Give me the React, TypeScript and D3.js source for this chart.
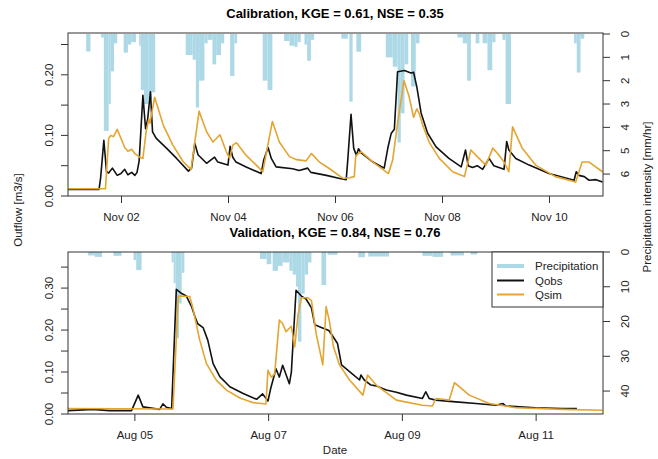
import * as d3 from 'd3';

// --- calibration period (days since Nov 01 00:00) ---
const calObs: [number, number][] = [
  [0, 0.011], [0.58, 0.011], [0.61, 0.03], [0.67, 0.092], [0.72, 0.04], [0.76, 0.038], [0.83, 0.046],
  [0.92, 0.034], [0.99, 0.037], [1.06, 0.044], [1.12, 0.035], [1.19, 0.039], [1.25, 0.034], [1.29, 0.039],
  [1.33, 0.058], [1.4, 0.166], [1.45, 0.111], [1.49, 0.127], [1.54, 0.172], [1.58, 0.106], [1.65, 0.095],
  [1.84, 0.079], [2.03, 0.062], [2.25, 0.041], [2.31, 0.046], [2.37, 0.087], [2.43, 0.068], [2.59, 0.054],
  [2.74, 0.064], [2.8, 0.056], [2.99, 0.051], [3.03, 0.082], [3.08, 0.064], [3.14, 0.056], [3.33, 0.048],
  [3.61, 0.037], [3.66, 0.06], [3.74, 0.08], [3.8, 0.062], [3.89, 0.048], [4.2, 0.045], [4.32, 0.042],
  [4.48, 0.046], [4.54, 0.039], [4.83, 0.034], [5.08, 0.029], [5.2, 0.027], [5.23, 0.06], [5.29, 0.135],
  [5.34, 0.079], [5.39, 0.067], [5.43, 0.078], [5.48, 0.071], [5.7, 0.056], [5.91, 0.046], [5.98, 0.08],
  [6.04, 0.103], [6.1, 0.11], [6.16, 0.205], [6.29, 0.207], [6.41, 0.203], [6.46, 0.204], [6.52, 0.18],
  [6.6, 0.137], [6.72, 0.104], [6.88, 0.081], [7.12, 0.062], [7.35, 0.048], [7.43, 0.076], [7.48, 0.05],
  [7.56, 0.047], [7.65, 0.05], [7.75, 0.044], [7.87, 0.062], [7.96, 0.05], [8.15, 0.044], [8.2, 0.09],
  [8.24, 0.076], [8.37, 0.062], [8.62, 0.051], [8.99, 0.037], [9.46, 0.026], [9.5, 0.04], [9.55, 0.034],
  [9.65, 0.032], [9.74, 0.026], [9.87, 0.027], [9.99, 0.023],
];
const calSim: [number, number][] = [
  [0, 0.012], [0.7, 0.012], [0.76, 0.095], [0.8, 0.1], [0.85, 0.098], [0.92, 0.11], [1.06, 0.08],
  [1.12, 0.074], [1.19, 0.077], [1.25, 0.07], [1.34, 0.064], [1.4, 0.062], [1.46, 0.106], [1.51, 0.127],
  [1.53, 0.12], [1.62, 0.163], [1.78, 0.117], [1.96, 0.084], [2.15, 0.057], [2.3, 0.044], [2.45, 0.14],
  [2.59, 0.106], [2.71, 0.089], [2.84, 0.101], [2.96, 0.073], [3.02, 0.062], [3.08, 0.084], [3.15, 0.088],
  [3.33, 0.067], [3.52, 0.051], [3.64, 0.04], [3.82, 0.123], [3.95, 0.089], [4.14, 0.065], [4.27, 0.06],
  [4.45, 0.058], [4.55, 0.07], [4.7, 0.056], [4.89, 0.045], [5.14, 0.029], [5.26, 0.03], [5.35, 0.032],
  [5.38, 0.067], [5.48, 0.073], [5.7, 0.056], [5.99, 0.037], [6.07, 0.06], [6.16, 0.12], [6.28, 0.19],
  [6.37, 0.166], [6.46, 0.13], [6.52, 0.144], [6.57, 0.135], [6.63, 0.117], [6.75, 0.089], [6.94, 0.062],
  [7.19, 0.04], [7.41, 0.032], [7.53, 0.076], [7.65, 0.065], [7.81, 0.051], [7.94, 0.079], [8.03, 0.07],
  [8.15, 0.056], [8.24, 0.04], [8.31, 0.114], [8.49, 0.079], [8.74, 0.051], [9.11, 0.032], [9.49, 0.023],
  [9.61, 0.056], [9.74, 0.056], [9.99, 0.04],
];
// [start day, end day, mm/hr]
const calRain: [number, number, number][] = [
  [0.34, 0.42, 0.75], [0.62, 0.67, 0.15], [0.67, 0.76, 4.15], [0.76, 0.8, 3.0], [0.8, 0.86, 1.6],
  [0.86, 0.92, 0.4], [1.04, 1.12, 0.8], [1.12, 1.18, 0.45], [1.18, 1.27, 0.35], [1.33, 1.36, 0.5],
  [1.36, 1.42, 2.4], [1.42, 1.5, 3.0], [1.5, 1.57, 2.8], [1.57, 1.63, 2.5], [2.2, 2.33, 0.9],
  [2.33, 2.39, 1.1], [2.39, 2.45, 3.15], [2.45, 2.55, 2.0], [2.55, 2.61, 0.4], [2.61, 2.7, 0.25],
  [2.7, 2.77, 1.3], [2.77, 2.86, 0.9], [2.86, 2.92, 0.4], [3.03, 3.11, 1.8], [3.11, 3.16, 0.4],
  [3.64, 3.73, 2.0], [3.73, 3.82, 2.4], [4.04, 4.14, 0.3], [4.14, 4.23, 0.5], [4.23, 4.29, 0.55],
  [4.29, 4.35, 0.35], [4.42, 4.47, 0.45], [4.47, 4.54, 1.15], [4.54, 4.6, 0.25], [5.11, 5.23, 0.2],
  [5.26, 5.32, 2.9], [5.39, 5.48, 0.76], [5.94, 6.07, 1.0], [6.07, 6.16, 1.4], [6.16, 6.22, 4.65],
  [6.22, 6.29, 3.4], [6.29, 6.36, 1.3], [6.41, 6.5, 2.25], [6.5, 6.57, 0.4], [7.28, 7.38, 0.15],
  [7.38, 7.46, 0.4], [7.46, 7.53, 2.0], [7.62, 7.69, 0.4], [7.75, 7.84, 0.4], [7.84, 7.93, 1.55],
  [7.93, 7.99, 0.35], [8.12, 8.18, 0.25], [8.18, 8.28, 3.0], [9.46, 9.51, 0.4], [9.51, 9.58, 1.65],
  [9.58, 9.65, 0.2],
];

// --- validation period (days since Aug 04 00:00) ---
const valObs: [number, number][] = [
  [0, 0.008], [0.37, 0.011], [0.62, 0.008], [0.95, 0.008], [1.05, 0.045], [1.12, 0.017], [1.37, 0.011],
  [1.42, 0.024], [1.47, 0.016], [1.55, 0.013], [1.62, 0.297], [1.7, 0.287], [1.77, 0.281], [1.85, 0.255],
  [1.9, 0.231], [1.94, 0.215], [2.02, 0.206], [2.09, 0.176], [2.17, 0.12], [2.27, 0.089], [2.42, 0.065],
  [2.62, 0.049], [2.82, 0.035], [2.91, 0.048], [2.99, 0.031], [3.03, 0.06], [3.11, 0.108], [3.16, 0.088],
  [3.21, 0.116], [3.31, 0.072], [3.34, 0.1], [3.41, 0.295], [3.49, 0.281], [3.56, 0.274], [3.64, 0.253],
  [3.69, 0.213], [3.76, 0.208], [3.9, 0.199], [3.94, 0.19], [4.03, 0.168], [4.09, 0.117], [4.21, 0.101],
  [4.36, 0.081], [4.38, 0.093], [4.43, 0.081], [4.53, 0.069], [4.61, 0.067], [4.76, 0.057], [4.91, 0.052],
  [5.06, 0.045], [5.3, 0.037], [5.35, 0.053], [5.4, 0.037], [5.5, 0.033], [5.8, 0.029], [6.1, 0.025],
  [6.4, 0.021], [6.5, 0.025], [6.55, 0.019], [6.99, 0.015], [7.39, 0.013], [7.61, 0.013],
];
const valSim: [number, number][] = [
  [0, 0.013], [1.57, 0.012], [1.65, 0.281], [1.82, 0.28], [1.87, 0.25], [1.97, 0.176], [2.07, 0.12],
  [2.22, 0.08], [2.37, 0.057], [2.57, 0.038], [2.77, 0.027], [2.96, 0.024], [2.99, 0.104], [3.04, 0.088],
  [3.09, 0.095], [3.16, 0.224], [3.21, 0.215], [3.26, 0.196], [3.34, 0.209], [3.39, 0.16], [3.44, 0.236],
  [3.49, 0.277], [3.59, 0.277], [3.64, 0.27], [3.71, 0.192], [3.81, 0.117], [3.86, 0.256], [3.91, 0.22],
  [3.97, 0.16], [4.06, 0.117], [4.21, 0.081], [4.41, 0.045], [4.48, 0.093], [4.61, 0.069], [4.91, 0.033],
  [5.3, 0.021], [5.45, 0.019], [5.5, 0.037], [5.6, 0.035], [5.7, 0.033], [5.78, 0.075], [6.0, 0.045],
  [6.3, 0.025], [6.7, 0.015], [7.39, 0.011], [7.99, 0.009],
];
const valRain: [number, number, number][] = [
  [0.3, 0.4, 1.0], [0.4, 0.51, 1.4], [0.68, 0.8, 1.1], [0.98, 1.02, 2.3], [1.02, 1.1, 5.2],
  [1.55, 1.58, 3.0], [1.58, 1.61, 9.0], [1.61, 1.66, 24.8], [1.66, 1.7, 14.8], [1.7, 1.74, 6.0],
  [2.87, 2.97, 2.0], [2.97, 3.04, 3.5], [3.06, 3.14, 5.4], [3.14, 3.21, 4.0], [3.21, 3.31, 3.0],
  [3.31, 3.36, 5.4], [3.36, 3.41, 6.5], [3.41, 3.44, 10], [3.44, 3.49, 25.8], [3.49, 3.54, 12],
  [3.54, 3.59, 6.5], [3.59, 3.64, 3.0], [3.79, 3.86, 9.5], [3.88, 4.03, 0.8], [4.34, 4.44, 1.5],
  [4.49, 4.8, 1.3], [5.3, 5.45, 1.1], [5.45, 5.61, 1.4], [5.72, 5.92, 1.0], [6.02, 6.12, 0.7],
];

const calTicksL = [0, 0.05, 0.1, 0.15, 0.2, 0.25];
const calLabelsL = [0, 0.1, 0.2];
const calTicksR = [0, 1, 2, 3, 4, 5, 6];
const valTicksL = [0, 0.05, 0.1, 0.15, 0.2, 0.25, 0.3, 0.35];
const valLabelsL = [0, 0.1, 0.2, 0.3];
const valTicksR = [0, 10, 20, 30, 40];

const DAY = 864e5;
const calStart = Date.UTC(2016, 10, 1);
const valStart = Date.UTC(2016, 7, 4);

const RAIN = '#add8e6';
const SIM = '#e3a530';
const FONT = '"Liberation Sans", Arial, sans-serif';

type PanelProps = {
  title: string;
  start: number;
  days: number;
  top: number;
  bottom: number;
  qMax: number;
  rMin: number;
  rMax: number;
  obs: [number, number][];
  sim: [number, number][];
  rain: [number, number, number][];
  ticksL: number[];
  labelsL: number[];
  ticksR: number[];
};

const left = 68;
const right = 603;

function Panel(p: PanelProps) {
  const x = d3.scaleUtc().domain([new Date(p.start), new Date(p.start + p.days * DAY)]).range([left, right]);
  const yQ = d3.scaleLinear().domain([0, p.qMax]).range([p.bottom, p.top]);
  const yR = d3.scaleLinear().domain([p.rMin, p.rMax]).range([p.top, p.bottom]);
  const t = (d: number) => new Date(p.start + d * DAY);
  const line = d3.line<[number, number]>().x((d) => x(t(d[0]))).y((d) => yQ(d[1]));
  // every second day, starting the day after the panel start
  const xTicks = d3.utcDay.range(new Date(p.start + DAY), new Date(p.start + p.days * DAY), 2);
  const fmt = d3.utcFormat('%b %d');

  return (
    <g>
      <text x={335} y={p.top - 15} textAnchor="middle" fontWeight="bold" fontSize={13}>{p.title}</text>
      {p.rain.map((r, i) => (
        <rect key={i} x={x(t(r[0]))} width={x(t(r[1])) - x(t(r[0]))} y={yR(0)} height={yR(r[2]) - yR(0)} fill={RAIN} />
      ))}
      <path d={line(p.obs)!} fill="none" stroke="#111" strokeWidth={1.6} strokeLinejoin="round" />
      <path d={line(p.sim)!} fill="none" stroke={SIM} strokeWidth={1.6} strokeLinejoin="round" />
      <rect x={left} y={p.top} width={right - left} height={p.bottom - p.top} fill="none" stroke="#333" strokeWidth={1} />
      {xTicks.map((d, i) => (
        <g key={i}>
          <line x1={x(d)} x2={x(d)} y1={p.bottom} y2={p.bottom + 7} stroke="#333" />
          <text x={x(d)} y={p.bottom + 25} textAnchor="middle" fontSize={11.5} fill="#222">{fmt(d)}</text>
        </g>
      ))}
      {p.ticksL.map((v, i) => (
        <line key={i} x1={left - 7} x2={left} y1={yQ(v)} y2={yQ(v)} stroke="#333" />
      ))}
      {p.labelsL.map((v, i) => (
        <text key={i} transform={`translate(53,${yQ(v)}) rotate(-90)`} textAnchor="middle" fontSize={11.5} fill="#222">
          {v.toFixed(2)}
        </text>
      ))}
      {p.ticksR.map((v, i) => (
        <g key={i}>
          <line x1={right} x2={right + 7} y1={yR(v)} y2={yR(v)} stroke="#333" />
          <text transform={`translate(629,${yR(v)}) rotate(-90)`} textAnchor="middle" fontSize={11.5} fill="#222">{v}</text>
        </g>
      ))}
    </g>
  );
}

export default function App() {
  return (
    <svg width={658} height={459} style={{ position: 'absolute', left: 0, top: 0, background: '#fff' }} fontFamily={FONT}>
      <Panel title="Calibration, KGE = 0.61, NSE = 0.35" start={calStart} days={10} top={33} bottom={196}
        qMax={0.269} rMin={-0.043} rMax={6.94} obs={calObs} sim={calSim} rain={calRain}
        ticksL={calTicksL} labelsL={calLabelsL} ticksR={calTicksR} />
      <Panel title="Validation, KGE = 0.84, NSE = 0.76" start={valStart} days={8} top={252} bottom={414}
        qMax={0.386} rMin={0} rMax={46.6} obs={valObs} sim={valSim} rain={valRain}
        ticksL={valTicksL} labelsL={valLabelsL} ticksR={valTicksR} />
      <text x={335} y={454} textAnchor="middle" fontSize={11.5} fill="#222">Date</text>
      <text transform="translate(22,210) rotate(-90)" textAnchor="middle" fontSize={11.5} fill="#222">Outflow [m3/s]</text>
      <text transform="translate(651,197) rotate(-90)" textAnchor="middle" fontSize={11.5} fill="#222">Precipitation intensity [mm/hr]</text>
      <g>
        <rect x={492} y={252} width={111} height={55} fill="#fff" stroke="#333" />
        <line x1={497} x2={524} y1={266} y2={266} stroke={RAIN} strokeWidth={4} />
        <line x1={497} x2={524} y1={280.5} y2={280.5} stroke="#111" strokeWidth={2} />
        <line x1={497} x2={524} y1={294.5} y2={294.5} stroke={SIM} strokeWidth={2} />
        <text x={535} y={270} fontSize={11.5} fill="#222">Precipitation</text>
        <text x={535} y={284.5} fontSize={11.5} fill="#222">Qobs</text>
        <text x={535} y={298.5} fontSize={11.5} fill="#222">Qsim</text>
      </g>
    </svg>
  );
}
